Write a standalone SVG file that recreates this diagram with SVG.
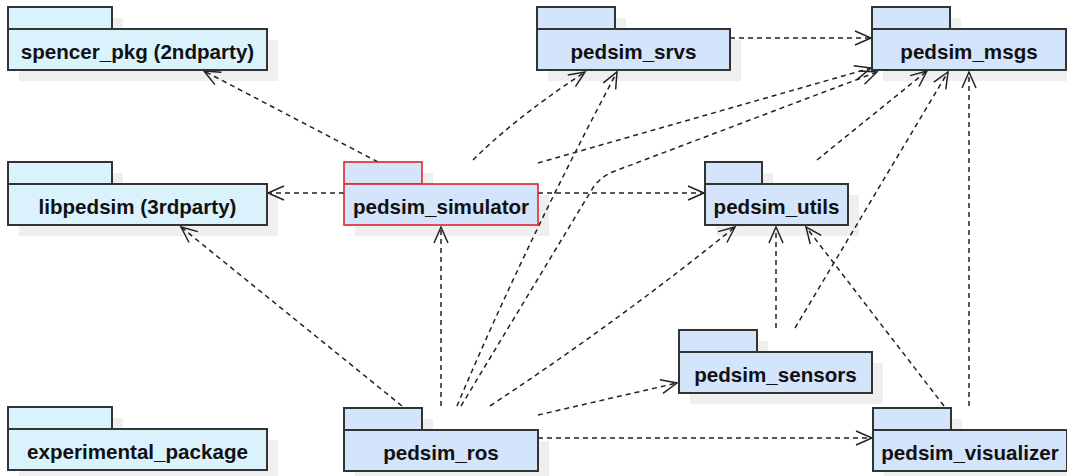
<svg xmlns="http://www.w3.org/2000/svg" width="1067" height="476" viewBox="0 0 1067 476">
<style>
.bg{fill:#ffffff}
.sh{fill:#efefef}
.cy{fill:#DAF2FC;stroke:#333333;stroke-width:2}
.bl{fill:#D3E4FB;stroke:#333333;stroke-width:2}
.rd{fill:#D3E4FB;stroke:#E0262B;stroke-width:1.6}
.lb{font-family:"Liberation Sans",Arial,sans-serif;font-weight:bold;font-size:20.6px;fill:#111111;text-anchor:middle}
.e{fill:none;stroke:#222222;stroke-width:1.5;stroke-dasharray:5,4;marker-end:url(#arr)}
</style>
<defs>
<marker id="arr" markerUnits="userSpaceOnUse" orient="auto" markerWidth="40" markerHeight="40" refX="0" refY="0" viewBox="-20 -20 40 40" overflow="visible">
<path d="M-16,-7 L0,0 L-16,7" fill="none" stroke="#222222" stroke-width="1.5" stroke-dasharray="none"/>
</marker>
</defs>
<rect class="bg" x="0" y="0" width="1067" height="476"/>

<g id="shadows">
<rect class="sh" x="19" y="18" width="104" height="22"/><rect class="sh" x="19" y="40" width="259" height="41"/>
<rect class="sh" x="19" y="173" width="104" height="22"/><rect class="sh" x="19" y="195" width="259" height="41"/>
<rect class="sh" x="19" y="418" width="104" height="22"/><rect class="sh" x="19" y="440" width="259" height="41"/>
<rect class="sh" x="355" y="173" width="78" height="22"/><rect class="sh" x="355" y="195" width="194" height="41"/>
<rect class="sh" x="548" y="18" width="78" height="22"/><rect class="sh" x="548" y="40" width="193" height="41"/>
<rect class="sh" x="883" y="18" width="78" height="22"/><rect class="sh" x="883" y="40" width="194" height="41"/>
<rect class="sh" x="716" y="173" width="57" height="22"/><rect class="sh" x="716" y="195" width="143" height="41"/>
<rect class="sh" x="690" y="341" width="78" height="22"/><rect class="sh" x="690" y="363" width="193" height="41"/>
<rect class="sh" x="355" y="419" width="78" height="22"/><rect class="sh" x="355" y="441" width="194" height="41"/>
<rect class="sh" x="884" y="419" width="78" height="22"/><rect class="sh" x="884" y="441" width="194" height="41"/>
</g>

<g id="connectors">
<path class="e" d="M378,162 L204,71"/>
<path class="e" d="M344,193 L268,193"/>
<path class="e" d="M473,160 C495,138 530,108 585,72"/>
<path class="e" d="M538,163 L871,68"/>
<path class="e" d="M538,193 L704,193"/>
<path class="e" d="M730,38 L871,38"/>
<path class="e" d="M402,406 L181,227"/>
<path class="e" d="M441,406 L441,227"/>
<path class="e" d="M457,406 Q525,245 617,72"/>
<path class="e" d="M461,406 L594,186 Q603,175 615,171 L877,72"/>
<path class="e" d="M490,406 Q620,320 735,227"/>
<path class="e" d="M538,415 L677,383"/>
<path class="e" d="M538,438 L872,438"/>
<path class="e" d="M817,160 L927,71"/>
<path class="e" d="M776,328 L776,227"/>
<path class="e" d="M795,328 L948,72"/>
<path class="e" d="M944,406 L806,227"/>
<path class="e" d="M969,406 L969,72"/>
</g>

<g id="spencer_pkg">
<rect class="cy" x="8" y="7" width="104" height="22"/>
<rect class="cy" x="8" y="29" width="259" height="41"/>
<text class="lb" x="137.5" y="58.5">spencer_pkg (2ndparty)</text>
</g>
<g id="libpedsim">
<rect class="cy" x="8" y="162" width="104" height="22"/>
<rect class="cy" x="8" y="184" width="259" height="41"/>
<text class="lb" x="137.5" y="213.5">libpedsim (3rdparty)</text>
</g>
<g id="experimental_package">
<rect class="cy" x="8" y="407" width="104" height="22"/>
<rect class="cy" x="8" y="429" width="259" height="41"/>
<text class="lb" x="137.5" y="458.5">experimental_package</text>
</g>
<g id="pedsim_simulator">
<rect class="rd" x="344" y="162" width="78" height="22"/>
<rect class="rd" x="344" y="184" width="194" height="41"/>
<text class="lb" x="441" y="213.5">pedsim_simulator</text>
</g>
<g id="pedsim_srvs">
<rect class="bl" x="537" y="7" width="78" height="22"/>
<rect class="bl" x="537" y="29" width="193" height="41"/>
<text class="lb" x="633.5" y="58.5">pedsim_srvs</text>
</g>
<g id="pedsim_msgs">
<rect class="bl" x="872" y="7" width="78" height="22"/>
<rect class="bl" x="872" y="29" width="194" height="41"/>
<text class="lb" x="969" y="58.5">pedsim_msgs</text>
</g>
<g id="pedsim_utils">
<rect class="bl" x="705" y="162" width="57" height="22"/>
<rect class="bl" x="705" y="184" width="143" height="41"/>
<text class="lb" x="776.5" y="213.5">pedsim_utils</text>
</g>
<g id="pedsim_sensors">
<rect class="bl" x="679" y="330" width="78" height="22"/>
<rect class="bl" x="679" y="352" width="193" height="41"/>
<text class="lb" x="775.5" y="381.5">pedsim_sensors</text>
</g>
<g id="pedsim_ros">
<rect class="bl" x="344" y="408" width="78" height="22"/>
<rect class="bl" x="344" y="430" width="194" height="41"/>
<text class="lb" x="441" y="459.5">pedsim_ros</text>
</g>
<g id="pedsim_visualizer">
<rect class="bl" x="873" y="408" width="78" height="22"/>
<rect class="bl" x="873" y="430" width="194" height="41"/>
<text class="lb" x="970" y="459.5">pedsim_visualizer</text>
</g>
</svg>
